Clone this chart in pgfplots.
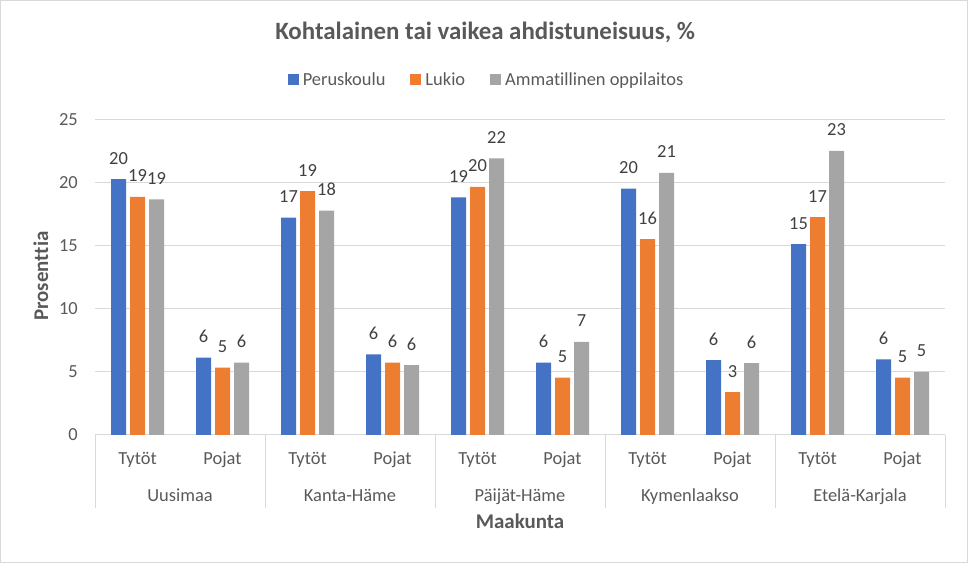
\documentclass[border=0pt]{standalone}
\usepackage{pgfplots}
\pgfplotsset{compat=1.18}
\usepackage{pgfplotstable}
\usepackage{fontspec}
\setmainfont{Carlito}[Ligatures={NoCommon}]
\definecolor{cblue}{HTML}{4472C4}
\definecolor{corange}{HTML}{ED7D31}
\definecolor{cgrey}{HTML}{A5A5A5}
\definecolor{ctext}{HTML}{595959}
\definecolor{clab}{HTML}{404040}
\definecolor{cgrid}{HTML}{D9D9D9}
\newcommand{\fs}{\fontsize{18.5}{22}\selectfont}
\pgfplotstableread{
x pk lk am
0 20.3 18.9 18.7
1 6.15 5.35 5.75
2 17.25 19.35 17.8
3 6.4 5.75 5.55
4 18.85 19.7 21.95
5 5.75 4.55 7.4
6 19.55 15.55 20.8
7 5.95 3.4 5.7
8 15.15 17.3 22.55
9 6.0 4.55 5.0
}\data
\begin{document}
\begin{tikzpicture}
\path[use as bounding box] (0,0) rectangle (968bp,563bp);
\draw[cgrid, line width=1bp] (0.5bp,0.5bp) rectangle (967.5bp,562.5bp);
\node[font=\bfseries\fontsize{25}{30}\selectfont, text=ctext, anchor=base] at (485bp,523bp) {Kohtalainen tai vaikea ahdistuneisuus, \%};
\node[font=\bfseries\fontsize{21}{25}\selectfont, text=ctext, anchor=base] at (520bp,35bp) {Maakunta};
\node[font=\bfseries\fontsize{21}{25}\selectfont, text=ctext, rotate=90, anchor=base] at (48bp,287bp) {Prosenttia};
\begin{axis}[
  at={(95bp,128bp)}, anchor=south west,
  scale only axis, width=850bp, height=315bp,
  clip=false,
  ybar=4bp, bar width=15bp,
  xmin=-0.5, xmax=9.5, ymin=0, ymax=25,
  ytick={0,5,...,25},
  xtick=data,
  xticklabels={Tytöt,Pojat,Tytöt,Pojat,Tytöt,Pojat,Tytöt,Pojat,Tytöt,Pojat},
  /pgf/number format/assume math mode=true,
  axis line style={draw=none},
  major tick length=0pt,
  ymajorgrids, grid style={cgrid, line width=1bp},
  tick label style={font=\fs, text=ctext},
  yticklabel style={anchor=east, inner sep=0pt, xshift=-17bp},
  xticklabel style={anchor=base, inner sep=0pt, yshift=-30bp},
  nodes near coords,
  nodes near coords style={font=\fs, text=clab, anchor=base, inner sep=0pt, yshift=15bp,
    /pgf/number format/fixed, /pgf/number format/precision=0},
  legend columns=3,
  legend style={at={(axis description cs:0.4618,1.1286)}, anchor=center, draw=none, fill=none,
    font=\fs, text=ctext, inner sep=0pt,
    nodes={inner xsep=4bp, inner ysep=2bp},
    /tikz/every even column/.append style={column sep=21bp}},
  legend image code/.code={\fill[#1] (0bp,-5.5bp) rectangle (11bp,5.5bp);},
]
\addplot[fill=cblue, draw=none] table[x=x,y=pk]{\data};
\addplot[fill=corange, draw=none] table[x=x,y=lk]{\data};
\addplot[fill=cgrey, draw=none] table[x=x,y=am]{\data};
\legend{Peruskoulu,Lukio,Ammatillinen oppilaitos}
\pgfplotsinvokeforeach{-0.5,1.5,3.5,5.5,7.5,9.5}{
  \draw[cgrid, line width=1bp] (axis cs:#1,0) -- ++(0bp,-73bp);
}
\node[font=\fs, text=ctext, anchor=base] at (axis cs:0.5,0) [yshift=-66bp] {Uusimaa};
\node[font=\fs, text=ctext, anchor=base] at (axis cs:2.5,0) [yshift=-66bp] {Kanta-Häme};
\node[font=\fs, text=ctext, anchor=base] at (axis cs:4.5,0) [yshift=-66bp] {Päijät-Häme};
\node[font=\fs, text=ctext, anchor=base] at (axis cs:6.5,0) [yshift=-66bp] {Kymenlaakso};
\node[font=\fs, text=ctext, anchor=base] at (axis cs:8.5,0) [yshift=-66bp] {Etelä-Karjala};
\end{axis}
\end{tikzpicture}
\end{document}
